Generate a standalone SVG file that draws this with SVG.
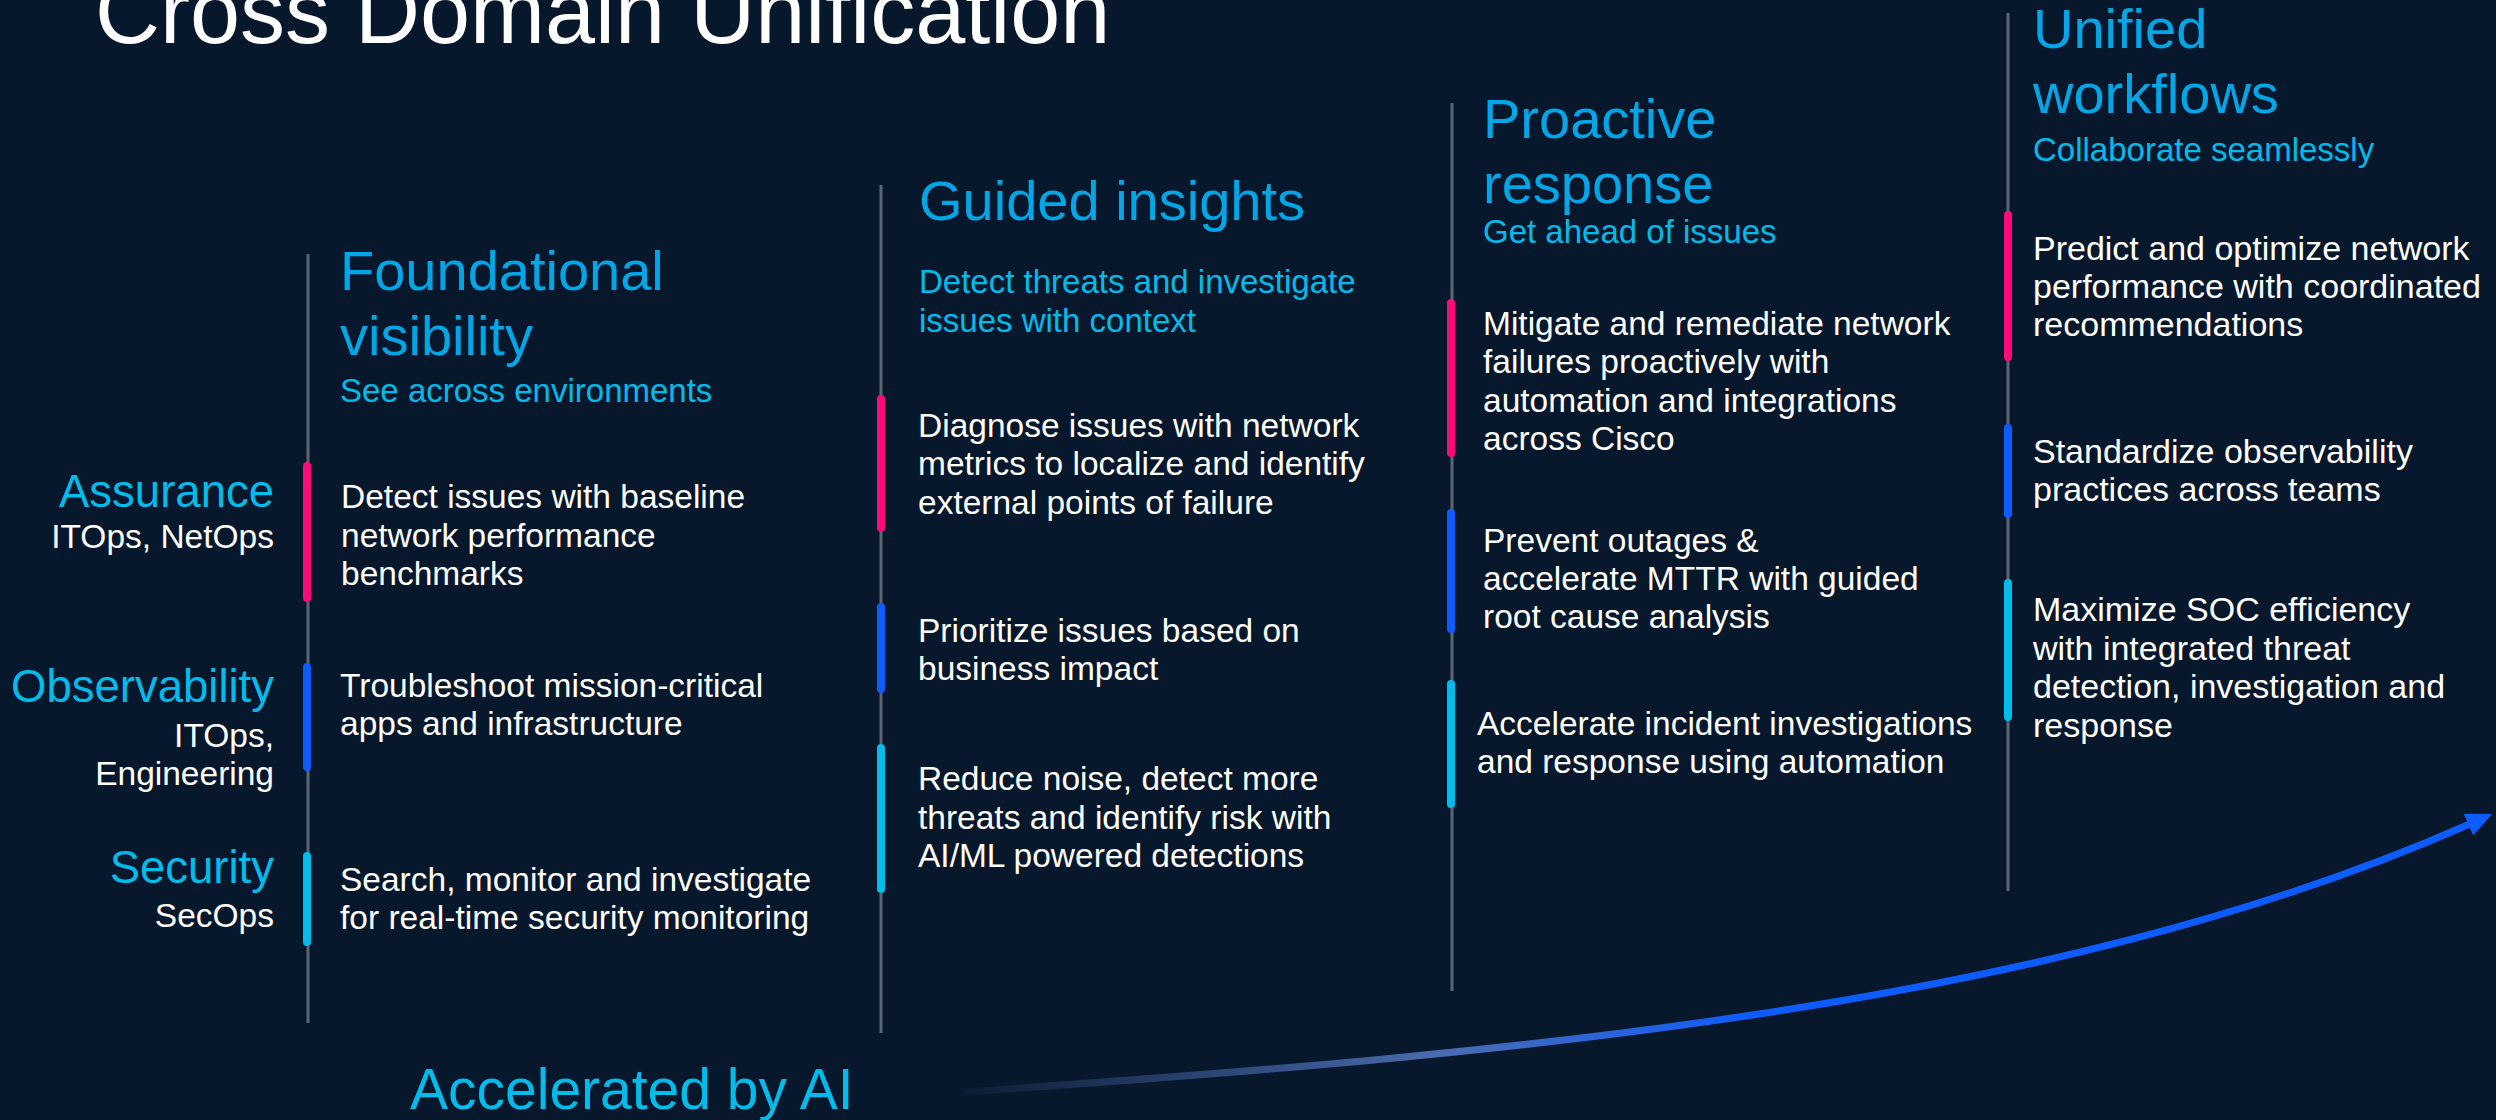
<svg xmlns="http://www.w3.org/2000/svg" width="2496" height="1120" viewBox="0 0 2496 1120">
<defs>
<style>
text{font-family:"Liberation Sans",Arial,sans-serif}
.title{font-size:90px;fill:#ffffff}
.head{font-size:56px;fill:#00a6e6}
.sub{font-size:33px;fill:#00bceb}
.body{font-size:33.5px;fill:#ffffff}
.body4{font-size:34px;fill:#ffffff}
.lab{font-size:45.5px;fill:#00bceb;text-anchor:end}
.role{font-size:33.5px;fill:#ffffff;text-anchor:end}
.ai{font-size:57px;fill:#00bceb}
.rail{stroke:#5c6774;stroke-width:3}
.bar{stroke-width:8;stroke-linecap:round}
.pink{stroke:#ff0a7a}
.blue{stroke:#0d5cff}
.cyan{stroke:#00bceb}
</style>
<linearGradient id="grad" gradientUnits="userSpaceOnUse" x1="963" y1="0" x2="1760" y2="0">
<stop offset="0" stop-color="#0b1c33"/>
<stop offset="0.6" stop-color="#4a6cb0"/>
<stop offset="1" stop-color="#0d5cff"/>
</linearGradient>
<marker id="arrow" markerUnits="userSpaceOnUse" markerWidth="30" markerHeight="30" refX="4" refY="12" orient="auto" viewBox="0 0 30 24">
<path d="M0,0 L26,12 L0,24 Z" fill="#0d5cff"/>
</marker>
</defs>
<rect width="2496" height="1120" fill="#07182d"/>
<text class="title" x="95" y="43">Cross Domain Unification</text>

<g id="labels">
<text class="lab" x="274" y="507">Assurance</text>
<text class="role" x="274" y="548">ITOps, NetOps</text>
<text class="lab" x="274" y="702">Observability</text>
<text class="role" x="274" y="747">ITOps,</text>
<text class="role" x="274" y="785">Engineering</text>
<text class="lab" x="274" y="883">Security</text>
<text class="role" x="274" y="927">SecOps</text>
</g>

<g id="col-foundational">
<line class="rail" x1="308" y1="254" x2="308" y2="1023"/>
<line class="bar pink" x1="307" y1="466" x2="307" y2="598"/>
<line class="bar blue" x1="307" y1="667" x2="307" y2="767"/>
<line class="bar cyan" x1="307" y1="856" x2="307" y2="942"/>
<text class="head" x="340" y="290">Foundational</text>
<text class="head" x="340" y="355">visibility</text>
<text class="sub" x="340" y="402">See across environments</text>
<text class="body" x="341" y="508">Detect issues with baseline</text>
<text class="body" x="341" y="547">network performance</text>
<text class="body" x="341" y="585">benchmarks</text>
<text class="body" x="340" y="697">Troubleshoot mission-critical</text>
<text class="body" x="340" y="735">apps and infrastructure</text>
<text class="body" x="340" y="891">Search, monitor and investigate</text>
<text class="body" x="340" y="929">for real-time security monitoring</text>
</g>

<g id="col-guided">
<line class="rail" x1="881" y1="185" x2="881" y2="1033"/>
<line class="bar pink" x1="881" y1="399" x2="881" y2="528"/>
<line class="bar blue" x1="881" y1="607" x2="881" y2="689"/>
<line class="bar cyan" x1="881" y1="748" x2="881" y2="889"/>
<text class="head" x="919" y="220">Guided insights</text>
<text class="sub" x="919" y="293">Detect threats and investigate</text>
<text class="sub" x="919" y="332">issues with context</text>
<text class="body" x="918" y="437">Diagnose issues with network</text>
<text class="body" x="918" y="475">metrics to localize and identify</text>
<text class="body" x="918" y="514">external points of failure</text>
<text class="body" x="918" y="642">Prioritize issues based on</text>
<text class="body" x="918" y="680">business impact</text>
<text class="body" x="918" y="790">Reduce noise, detect more</text>
<text class="body" x="918" y="829">threats and identify risk with</text>
<text class="body" x="918" y="867">AI/ML powered detections</text>
</g>

<g id="col-proactive">
<line class="rail" x1="1452" y1="103" x2="1452" y2="991"/>
<line class="bar pink" x1="1451" y1="303" x2="1451" y2="453"/>
<line class="bar blue" x1="1451" y1="513" x2="1451" y2="629"/>
<line class="bar cyan" x1="1451" y1="684" x2="1451" y2="804"/>
<text class="head" x="1483" y="138">Proactive</text>
<text class="head" x="1483" y="203">response</text>
<text class="sub" x="1483" y="243">Get ahead of issues</text>
<text class="body" x="1483" y="335">Mitigate and remediate network</text>
<text class="body" x="1483" y="373">failures proactively with</text>
<text class="body" x="1483" y="412">automation and integrations</text>
<text class="body" x="1483" y="450">across Cisco</text>
<text class="body" x="1483" y="552">Prevent outages &amp;</text>
<text class="body" x="1483" y="590">accelerate MTTR with guided</text>
<text class="body" x="1483" y="628">root cause analysis</text>
<text class="body" x="1477" y="735">Accelerate incident investigations</text>
<text class="body" x="1477" y="773">and response using automation</text>
</g>

<g id="col-unified">
<line class="rail" x1="2008" y1="13" x2="2008" y2="891"/>
<line class="bar pink" x1="2008" y1="215" x2="2008" y2="357"/>
<line class="bar blue" x1="2008" y1="428" x2="2008" y2="514"/>
<line class="bar cyan" x1="2008" y1="583" x2="2008" y2="717"/>
<text class="head" x="2033" y="48">Unified</text>
<text class="head" x="2033" y="113">workflows</text>
<text class="sub" x="2033" y="161">Collaborate seamlessly</text>
<text class="body4" x="2033" y="260">Predict and optimize network</text>
<text class="body4" x="2033" y="298">performance with coordinated</text>
<text class="body4" x="2033" y="336">recommendations</text>
<text class="body4" x="2033" y="463">Standardize observability</text>
<text class="body4" x="2033" y="501">practices across teams</text>
<text class="body4" x="2033" y="621">Maximize SOC efficiency</text>
<text class="body4" x="2033" y="660">with integrated threat</text>
<text class="body4" x="2033" y="698">detection, investigation and</text>
<text class="body4" x="2033" y="737">response</text>
</g>

<g id="connectors">
<path d="M963,1092 C1500,1055 2050,1010 2472,823" fill="none" stroke="url(#grad)" stroke-width="7" marker-end="url(#arrow)"/>
</g>
<text class="ai" x="410" y="1109">Accelerated by AI</text>
</svg>
